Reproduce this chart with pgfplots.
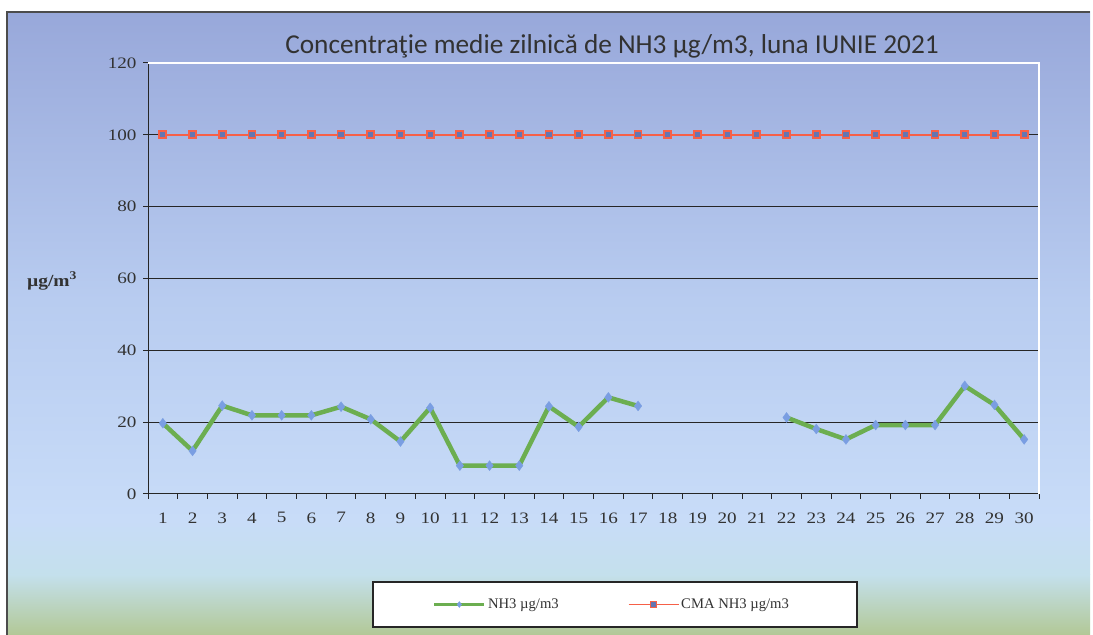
\documentclass[border=0pt]{standalone}
\usepackage{pgfplots}
\pgfplotsset{compat=1.18}
\usepackage{fontspec}
\setmainfont{Liberation Serif}
\newfontfamily\carlito{Carlito}
\newfontfamily\tickfont{Liberation Serif}[FakeStretch=1.2]
\newfontfamily\ylabfont{Liberation Serif}[FakeStretch=1.15]
\definecolor{bgA}{RGB}{152,168,218}
\definecolor{bgM}{RGB}{184,204,240}
\definecolor{bgB}{RGB}{200,220,248}
\definecolor{bgC}{RGB}{196,224,236}
\definecolor{bgD}{RGB}{178,200,150}
\definecolor{nhgreen}{RGB}{108,174,80}
\definecolor{nhblue}{RGB}{122,158,226}
\definecolor{cmared}{RGB}{246,96,72}
\definecolor{cmablue}{RGB}{100,118,178}
\definecolor{txt}{RGB}{50,50,50}
\begin{document}
\begin{tikzpicture}
\begin{scope}[x=1bp,y=1bp]
\useasboundingbox (0,0) rectangle (1093,635);
\fill[white] (0,0) rectangle (1093,635);
\shade[top color=bgA, bottom color=bgM] (7,335) rectangle (1090,623);
\shade[top color=bgM, bottom color=bgB] (7,114.8) rectangle (1090,335.2);
\shade[top color=bgB, bottom color=bgC] (7,60) rectangle (1090,115);
\shade[top color=bgC, bottom color=bgD] (7,0) rectangle (1090,60.2);
\draw[black!70, line width=1.2bp] (7,0) -- (7,623) -- (1090,623);
\node[font=\carlito\fontsize{27.4}{31}\selectfont, text=txt] at (612,589) {Concentraţie medie zilnică de NH3 µg/m3, luna IUNIE 2021};
\node[font=\ylabfont\bfseries\fontsize{17}{20}\selectfont, text=txt] at (52,354) {µg/m\textsuperscript{3}};
\draw[black!85, fill=white, line width=1.2bp] (373,8) rectangle (857,53);
\end{scope}
\begin{axis}[
  at={(148bp,141bp)}, anchor=south west, scale only axis,
  width=891bp, height=431bp,
  xmin=0.5, xmax=30.5, ymin=0, ymax=120,
  axis x line*=bottom, axis y line*=left,
  axis line style={-, black!85, line width=1bp},
  xtick={1,...,30}, minor xtick={0.5,1.5,...,30.5},
  ytick={0,20,...,120},
  tick align=outside,
  major tick length=5bp, minor tick length=5bp,
  major x tick style={draw=none},
  every tick/.style={black!85, line width=1bp},
  ymajorgrids, major grid style={black!85, line width=1bp},
  tick label style={font=\tickfont\fontsize{16}{18}\selectfont, text=txt},
  xticklabel style={yshift=-10bp},
  yticklabel style={xshift=-3bp},
  /pgf/number format/assume math mode=true,
  clip=false,
  legend columns=2,
  legend style={at={(0.5205,-0.2564)}, anchor=center, draw=none, fill=none,
    font=\fontsize{14.7}{17}\selectfont, text=txt,
    /tikz/every even column/.append style={column sep=67bp}},
  legend cell align=left,
  legend image code/.code={\draw[mark repeat=2,mark phase=2,#1] plot coordinates {(0bp,0bp) (25bp,0bp) (50bp,0bp)};},
]
\addlegendimage{color=nhgreen, line width=3.5bp, mark=diamond*, mark size=3bp, mark options={fill=nhblue, draw=nhblue, line width=0.3bp}}
\addlegendentry{NH3 µg/m3}
\addlegendimage{color=cmared, line width=1.5bp, mark=square*, mark size=3bp, mark options={fill=cmablue, draw=cmared, line width=1.5bp}}
\addlegendentry{CMA NH3 µg/m3}
\addplot[forget plot, color=cmared, line width=2bp, mark=square*, mark size=3.5bp,
  mark options={fill=cmablue, draw=cmared, line width=1.8bp}]
  coordinates {(1,100)(2,100)(3,100)(4,100)(5,100)(6,100)(7,100)(8,100)(9,100)(10,100)
  (11,100)(12,100)(13,100)(14,100)(15,100)(16,100)(17,100)(18,100)(19,100)(20,100)
  (21,100)(22,100)(23,100)(24,100)(25,100)(26,100)(27,100)(28,100)(29,100)(30,100)};
\addplot[forget plot, color=nhgreen, line width=4.5bp, mark=diamond*, mark size=5bp,
  mark options={fill=nhblue, draw=nhblue, line width=0.3bp}, unbounded coords=jump]
  coordinates {(1,19.7)(2,12.0)(3,24.6)(4,21.9)(5,21.9)(6,21.9)(7,24.3)(8,20.8)(9,14.6)(10,24.0)
  (11,7.9)(12,7.9)(13,7.9)(14,24.4)(15,18.7)(16,26.9)(17,24.5)(18,nan)(19,nan)(20,nan)
  (21,nan)(22,21.3)(23,18.1)(24,15.2)(25,19.2)(26,19.2)(27,19.2)(28,30.1)(29,24.8)(30,15.2)};
\draw[white, line width=2bp] (axis cs:0.5,120) -- (axis cs:30.5,120) -- (axis cs:30.5,0);
\end{axis}
\end{tikzpicture}
\end{document}
